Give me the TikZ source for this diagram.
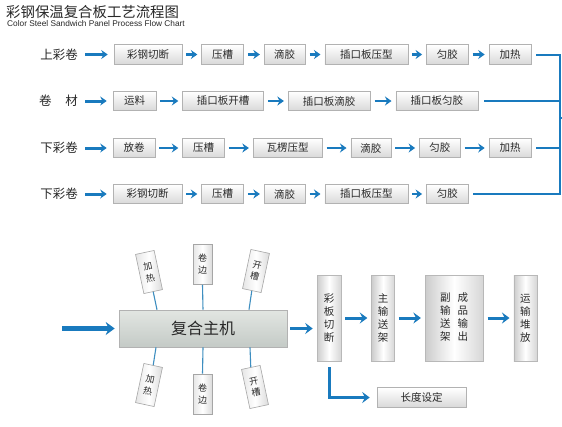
\documentclass[tikz,border=0pt]{standalone}
\usepackage{fontspec}
\newfontfamily\cjk{Noto Sans CJK SC}
\newfontfamily\latin{Liberation Sans}
\usetikzlibrary{arrows.meta,positioning,calc}

\definecolor{flowblue}{RGB}{25,122,190}
\definecolor{tieblue}{RGB}{62,142,192}
\definecolor{inktext}{RGB}{40,40,40}
\definecolor{hubtop}{RGB}{226,230,226}
\definecolor{hubbot}{RGB}{196,202,198}

\begin{document}
\begin{tikzpicture}[
  x=1pt, y=-1pt,
  flow/.style={draw=flowblue, line width=2.4pt,
               -{Stealth[length=6.5pt,width=9pt,inset=2.2pt]},
               shorten <=4pt, shorten >=4pt},
  lead/.style={flow, line width=3pt, shorten <=7pt, shorten >=6pt},
  bigflow/.style={flow, line width=3pt, -{Stealth[length=7.5pt,width=11pt,inset=2.7pt]}},
  feed/.style={draw=flowblue, line width=4.2pt,
               -{Stealth[length=9pt,width=13pt,inset=3pt]}},
  rail/.style={draw=flowblue, line width=2pt},
  tie/.style={draw=tieblue, line width=1.1pt},
  lbl/.style={font=\cjk\fontsize{12.5}{14}\selectfont, text=inktext, inner sep=0pt},
  proc/.style={draw=black!30, line width=0.6pt, top color=white, bottom color=black!15,
               minimum height=19.5pt, inner sep=0pt, text=inktext,
               font=\cjk\fontsize{10.5}{12}\selectfont},
  tower/.style={draw=black!28, line width=0.6pt, left color=black!20,
                right color=black!16, middle color=white, minimum height=86pt,
                inner sep=0pt, align=center, text=inktext,
                font=\cjk\fontsize{10.5}{13}\selectfont},
  sat/.style={draw=black!35, line width=0.6pt, left color=black!10,
              right color=black!14, middle color=white, minimum width=19pt,
              minimum height=40pt, inner sep=0pt, align=center, text=inktext,
              font=\cjk\fontsize{9}{12}\selectfont},
  hub/.style={draw=black!30, line width=0.6pt, top color=hubtop, bottom color=hubbot,
              minimum width=168pt, minimum height=37pt, inner sep=0pt, text=inktext,
              font=\cjk\fontsize{16}{18}\selectfont}
]

\fill[white] (0,0) rectangle (562,426);
\useasboundingbox (0,0) rectangle (562,426);

% ---------------------------------------------------------------------------
% Title
% ---------------------------------------------------------------------------
\node[anchor=west, inner sep=0pt, text=inktext, font=\cjk\fontsize{14.4}{16}\selectfont]
  (title) at (6,12.5) {彩钢保温复合板工艺流程图};
\node[anchor=west, inner sep=0pt, text=inktext, font=\latin\fontsize{8.3}{9}\selectfont]
  (subtitle) at (7,24) {Color Steel Sandwich Panel Process Flow Chart};

% ---------------------------------------------------------------------------
% Four feed lines
% ---------------------------------------------------------------------------
\node[lbl, anchor=east] (src1) at (78,54.5) {上彩卷};
\node[proc, minimum width=68pt] (r1a) at (148,54.5) {彩钢切断};
\node[proc, minimum width=42pt, right=19pt of r1a] (r1b) {压槽};
\node[proc, minimum width=41pt, right=20pt of r1b] (r1c) {滴胶};
\node[proc, minimum width=83pt, right=19pt of r1c] (r1d) {插口板压型};
\node[proc, minimum width=42pt, right=18pt of r1d] (r1e) {匀胶};
\node[proc, minimum width=42pt, right=20pt of r1e] (r1f) {加热};

\node[lbl, anchor=east] (src2) at (78,101) {卷\hspace{1.1em}材};
\node[proc, minimum width=43pt] (r2a) at (134.5,101) {运料};
\node[proc, minimum width=81pt, right=26pt of r2a] (r2b) {插口板开槽};
\node[proc, minimum width=82pt, right=24pt of r2b] (r2c) {插口板滴胶};
\node[proc, minimum width=82pt, right=25pt of r2c] (r2d) {插口板匀胶};

\node[lbl, anchor=east] (src3) at (78,148) {下彩卷};
\node[proc, minimum width=42pt] (r3a) at (134,148) {放卷};
\node[proc, minimum width=42pt, right=27pt of r3a] (r3b) {压槽};
\node[proc, minimum width=69pt, right=28pt of r3b] (r3c) {瓦楞压型};
\node[proc, minimum width=40pt, right=28pt of r3c] (r3d) {滴胶};
\node[proc, minimum width=41pt, right=28pt of r3d] (r3e) {匀胶};
\node[proc, minimum width=42pt, right=28pt of r3e] (r3f) {加热};

\node[lbl, anchor=east] (src4) at (78,194) {下彩卷};
\node[proc, minimum width=69pt] (r4a) at (147.5,194) {彩钢切断};
\node[proc, minimum width=42pt, right=19pt of r4a] (r4b) {压槽};
\node[proc, minimum width=41pt, right=20pt of r4b] (r4c) {滴胶};
\node[proc, minimum width=83pt, right=19pt of r4c] (r4d) {插口板压型};
\node[proc, minimum width=42pt, right=18pt of r4d] (r4e) {匀胶};

\foreach \s/\t in {src1/r1a, src2/r2a, src3/r3a, src4/r4a}
  \draw[lead] (\s) -- (\t);
\foreach \s/\t in {r1a/r1b, r1b/r1c, r1c/r1d, r1d/r1e, r1e/r1f,
                   r2a/r2b, r2b/r2c, r2c/r2d,
                   r3a/r3b, r3b/r3c, r3c/r3d, r3d/r3e, r3e/r3f,
                   r4a/r4b, r4b/r4c, r4c/r4d, r4d/r4e}
  \draw[flow] (\s) -- (\t);

% collecting rail on the right
\coordinate (railx) at (560,54.5);
\coordinate (railout) at (560,118);
\draw[rail] ([xshift=5pt]r1f.east) -| (railx |- r4e.east) -- ([xshift=4pt]r4e.east);
\draw[rail] ([xshift=6pt]r2d.east) -- (railx |- r2d.east);
\draw[rail] ([xshift=5pt]r3f.east) -- (railx |- r3f.east);
\draw[rail] (railout) -- ++(3,0);

% ---------------------------------------------------------------------------
% Laminating machine with its satellite units
% ---------------------------------------------------------------------------
\node[hub] (hub) at (203,328.5) {复合主机};
\coordinate (feedin) at (62,328.5);
\draw[feed] (feedin) -- ([xshift=-4pt]hub.west);

\node[sat, rotate=12]  (s1) at (149,272)   {加\\热};
\node[sat]             (s2) at (202.5,264.5) {卷\\边};
\node[sat, rotate=-12] (s3) at (256,271)   {开\\槽};
\node[sat, rotate=-12] (s4) at (149,385)   {加\\热};
\node[sat]             (s5) at (202.5,394) {卷\\边};
\node[sat, rotate=12]  (s6) at (255,387)   {开\\槽};

\draw[tie] (s1.south) -- ([xshift=-46pt]hub.north);
\draw[tie] (s2.south) -- (hub.north);
\draw[tie] (s3.south) -- ([xshift=46pt]hub.north);
\draw[tie] (s4.north) -- ([xshift=-47pt]hub.south);
\draw[tie] (s5.north) -- (hub.south);
\draw[tie] (s6.north) -- ([xshift=47pt]hub.south);

% ---------------------------------------------------------------------------
% Cutting, conveying and stacking
% ---------------------------------------------------------------------------
\node[tower, minimum width=24pt] (cut) at (329,318) {彩\\板\\切\\断};
\node[tower, minimum width=23pt, right=30pt of cut] (conv) {主\\输\\送\\架};
\node[tower, minimum width=58pt, right=30pt of conv] (outp)
  {\begin{tabular}{@{}c@{\hspace{7pt}}c@{}}副&成\\输&品\\送&输\\架&出\end{tabular}};
\node[tower, minimum width=23pt, right=30pt of outp] (stack) {运\\输\\堆\\放};
\node[proc, minimum width=89pt] (len) at (421.5,397.5) {长度设定};

\draw[bigflow, shorten <=3pt] (hub.east) -- (cut.west |- hub.east);
\draw[bigflow] (cut) -- (conv);
\draw[bigflow] (conv) -- (outp);
\draw[bigflow] (outp) -- (stack);
\draw[bigflow, shorten >=7pt] ([yshift=-2pt]cut.south) |- (len.west);

\end{tikzpicture}
\end{document}
